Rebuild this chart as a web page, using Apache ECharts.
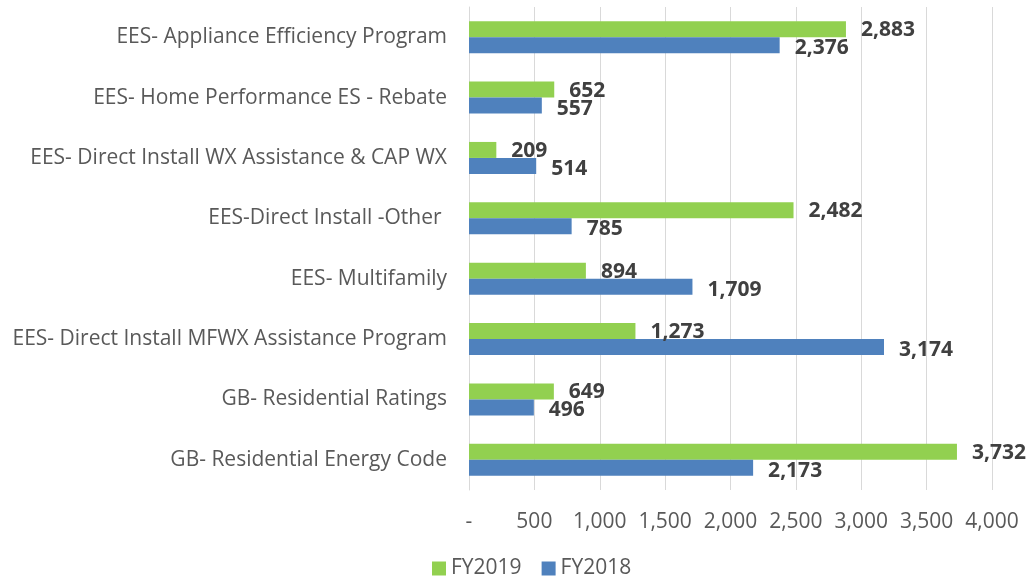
<!DOCTYPE html>
<html>
<head>
<meta charset="utf-8">
<script src="https://cdn.jsdelivr.net/npm/echarts@6/dist/echarts.min.js"></script>
<style>
  html, body { margin: 0; padding: 0; background: #fff; }
  #chart { width: 1030px; height: 586px; }
</style>
</head>
<body>
<div id="chart"></div>
<script>
// categories, top to bottom
const categories = [
  'EES- Appliance Efficiency Program',
  'EES- Home Performance ES - Rebate',
  'EES- Direct Install WX Assistance & CAP WX',
  'EES-Direct Install -Other ',
  'EES- Multifamily',
  'EES- Direct Install MFWX Assistance Program',
  'GB- Residential Ratings',
  'GB- Residential Energy Code'
]
const fy2019 = [2883, 652, 209, 2482, 894, 1273, 649, 3732]
const fy2018 = [2376, 557, 514, 785, 1709, 3174, 496, 2173]

const fontFamily = '"Open Sans", "Liberation Sans", sans-serif'
const fmt = (v) => (v === 0 ? '-' : v.toLocaleString('en-US'))

const chart = echarts.init(document.getElementById('chart'))
chart.setOption({
  animation: false,
  grid: {
    left: 469,
    right: 38,
    top: 7,
    bottom: 96,
  },
  legend: {
    bottom: 2,
    left: 427,
    itemWidth: 14,
    itemHeight: 14,
    itemGap: 20,
    icon: 'rect',
    textStyle: {
      color: '#595959',
      fontSize: 21,
      fontFamily,
    },
    data: ['FY2019', 'FY2018'],
  },
  xAxis: {
    type: 'value',
    min: 0,
    max: 4000,
    interval: 500,
    axisLine: { show: false },
    axisTick: { show: false },
    splitLine: {
      show: true,
      lineStyle: { color: '#d9d9d9', width: 1 },
    },
    axisLabel: {
      margin: 22,
      color: '#595959',
      fontSize: 21,
      fontFamily,
      formatter: fmt,
    },
  },
  yAxis: {
    type: 'category',
    inverse: true,
    data: categories,
    axisLine: { show: true, lineStyle: { color: '#d9d9d9' } },
    axisTick: { show: false },
    axisLabel: {
      margin: 22,
      color: '#595959',
      fontSize: 21,
      fontFamily,
    },
  },
  series: [
    {
      name: 'FY2019',
      type: 'bar',
      data: fy2019,
      barGap: '0%',
      barCategoryGap: '47%',
      itemStyle: { color: '#92d050' },
      label: {
        show: true,
        position: 'right',
        distance: 15,
        offset: [0, 1],
        color: '#404040',
        fontWeight: 'bold',
        fontSize: 21,
        fontFamily,
        formatter: (p) => fmt(p.value),
      },
    },
    {
      name: 'FY2018',
      type: 'bar',
      data: fy2018,
      barGap: '0%',
      barCategoryGap: '47%',
      itemStyle: { color: '#4f81bd' },
      label: {
        show: true,
        position: 'right',
        distance: 15,
        offset: [0, 3],
        color: '#404040',
        fontWeight: 'bold',
        fontSize: 21,
        fontFamily,
        formatter: (p) => fmt(p.value),
      },
    },
  ],
})
</script>
</body>
</html>
